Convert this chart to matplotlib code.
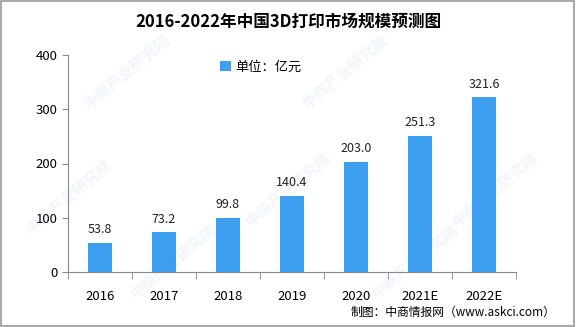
import matplotlib.pyplot as plt
import numpy as np

plt.rcParams['font.family'] = ['Noto Sans CJK SC', 'DejaVu Sans']

years = ['2016', '2017', '2018', '2019', '2020', '2021E', '2022E']
sizes = [53.8, 73.2, 99.8, 140.4, 203.0, 251.3, 321.6]
yticks = [0, 100, 200, 300, 400]

fig = plt.figure(figsize=(5.76, 3.27), dpi=100)
ax = fig.add_axes([0.118, 0.168, 0.778, 0.664])

x = np.arange(len(years))
bars = ax.bar(x, sizes, width=0.38, color='#3d9ff0', label='单位：亿元', zorder=3)
for xi, v in zip(x, sizes):
    ax.text(xi, v + 12, f'{v:.1f}', ha='center', va='bottom', fontsize=9, color='#222222')

ax.set_xlim(-0.5, len(years) - 0.5)
ax.set_ylim(0, 400)
ax.set_yticks(yticks)
ax.set_xticks(x)
ax.set_xticklabels(years)
ax.set_xticks(np.arange(-0.5, len(years)), minor=True)
ax.tick_params(axis='x', which='major', length=0, pad=13, labelsize=9.5)
ax.tick_params(axis='x', which='minor', length=5, color='#888888')
ax.tick_params(axis='y', length=4, color='#888888', labelsize=9.5)
for s in ['top', 'right']:
    ax.spines[s].set_visible(False)
for s in ['left', 'bottom']:
    ax.spines[s].set_color('#888888')

ax.legend(loc='upper center', bbox_to_anchor=(0.43, 1.03), frameon=False,
          fontsize=9.5, handlelength=0.8, handleheight=0.8, handletextpad=0.3)

fig.text(0.5, 0.935, '2016-2022年中国3D打印市场规模预测图', ha='center', va='center',
         fontsize=12, fontweight='bold')
fig.text(0.965, 0.045, '制图：中商情报网（www.askci.com）', ha='right', va='center', fontsize=8.5)

# faint watermark
for wx, wy in [(0.22, 0.78), (0.6, 0.78), (0.12, 0.4), (0.5, 0.42), (0.86, 0.42),
               (0.3, 0.2), (0.72, 0.2)]:
    fig.text(wx, wy, '中商产业研究院', rotation=40, ha='center', va='center',
             fontsize=11, color='#4a90d9', alpha=0.09, fontweight='bold')

fig.patches.append(plt.Rectangle((0.002, 0.003), 0.995, 0.994, transform=fig.transFigure,
                                 fill=False, edgecolor='#999999', linewidth=1.2))

fig.savefig('out.png', dpi=100)
